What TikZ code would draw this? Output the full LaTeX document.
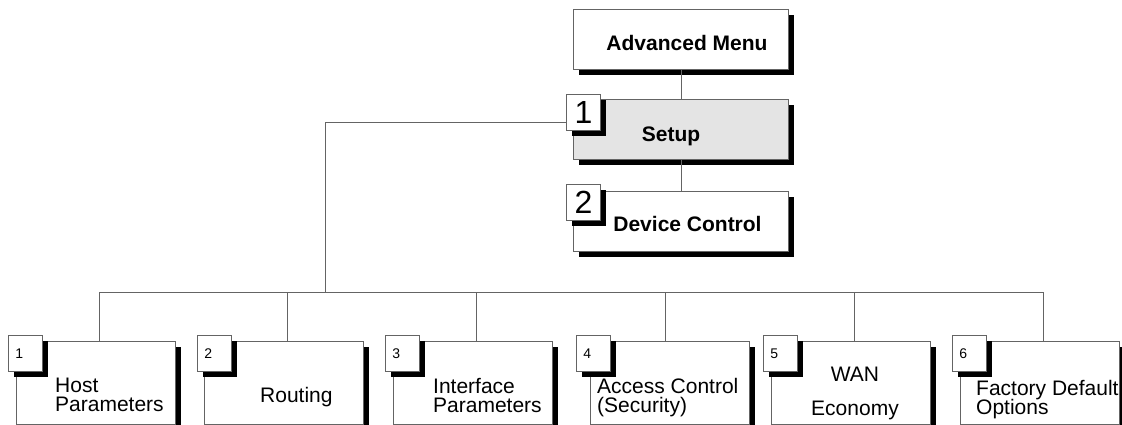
\documentclass[tikz,border=0pt]{standalone}
\usepackage{fontspec}
\setmainfont{Liberation Sans}
\usepackage{xcolor}
\usetikzlibrary{positioning,shadows}

\definecolor{linegray}{RGB}{100,100,100}
\definecolor{selgray}{RGB}{228,228,228}
\newcommand{\tightlines}{\lineskiplimit -20pt\relax}

\begin{document}
\begin{tikzpicture}[x=1pt,y=-1pt,
    menubox/.style={draw=linegray, line width=0.8pt, fill=white, anchor=north west, inner sep=0pt,
        minimum width=215pt, minimum height=60pt,
        drop shadow={fill=black, opacity=1, shadow xshift=6pt, shadow yshift=-6pt}},
    subbox/.style={menubox, minimum width=159pt, minimum height=83pt},
    numbox/.style={menubox, minimum width=34pt, minimum height=36pt},
    bignum/.style={font=\fontsize{32}{32}\selectfont},
    smallnum/.style={font=\fontsize{14}{14}\selectfont, text width=20pt, align=left},
    title/.style={font=\fontsize{21}{25}\selectfont\bfseries, anchor=base},
    caption/.style={font=\fontsize{21}{19}\selectfont\tightlines, align=left, anchor=north west, inner sep=0pt},
    wire/.style={draw=linegray, line width=0.8pt}]
    \useasboundingbox (0,0) rectangle (1122,425);

    % top column
    \node[menubox] (adv) at (573,9) {};
    \node[menubox, fill=selgray] (setup) at (573,99) {};
    \node[menubox] (dev) at (573,191) {};
    \draw[wire] (adv) -- (setup);
    \draw[wire] (setup) -- (dev);
    \node[numbox, bignum] (n1) at (566,94) {1};
    \node[numbox, bignum] (n2) at (566,184) {2};
    \node[title] (advtxt) at (687,51) {Advanced Menu};
    \node[title] (setuptxt) at (671,142) {Setup};
    \node[title] (devtxt) at (687.5,231) {Device Control};

    % setup submenu
    \node[subbox] (hp) at (16,341) {};
    \node[subbox] (rt) at (204,341) {};
    \node[subbox] (ip) at (393,341) {};
    \node[subbox] (ac) at (590,341) {};
    \node[subbox] (we) at (771,341) {};
    \node[subbox] (fd) at (960,341) {};

    \coordinate (bus) at (325,292);
    \draw[wire] ([yshift=-10pt]n1.west) -| (bus);
    \draw[wire] ([xshift=3pt]hp.north) |- ([xshift=3pt]fd.north |- bus) -- ([xshift=3pt]fd.north);
    \foreach \b in {rt,ip,we}
        \draw[wire] ([xshift=3pt]\b.north) -- ([xshift=3pt]\b.north |- bus);
    \draw[wire] ([xshift=-5pt]ac.north) -- ([xshift=-5pt]ac.north |- bus);

    \node[numbox, smallnum] (k1) at (8,335) {1};
    \node[numbox, smallnum] (k2) at (197,335) {2};
    \node[numbox, smallnum] (k3) at (385,335) {3};
    \node[numbox, smallnum] (k4) at (576,335) {4};
    \node[numbox, smallnum] (k5) at (763,335) {5};
    \node[numbox, smallnum] (k6) at (952,335) {6};

    \node[caption] (hptxt) at (55,378) {Host\\Parameters};
    \node[caption] (rttxt) at (260,387) {Routing};
    \node[caption] (iptxt) at (433,378) {Interface\\Parameters};
    \node[caption] (actxt) at (597,378) {Access Control\\(Security)};
    \node[caption, font=\fontsize{21}{34}\selectfont, align=center, anchor=north] (wetxt) at (855,367) {WAN\\Economy};
    \node[caption] (fdtxt) at (976,380) {Factory Default\\Options};
\end{tikzpicture}
\end{document}
